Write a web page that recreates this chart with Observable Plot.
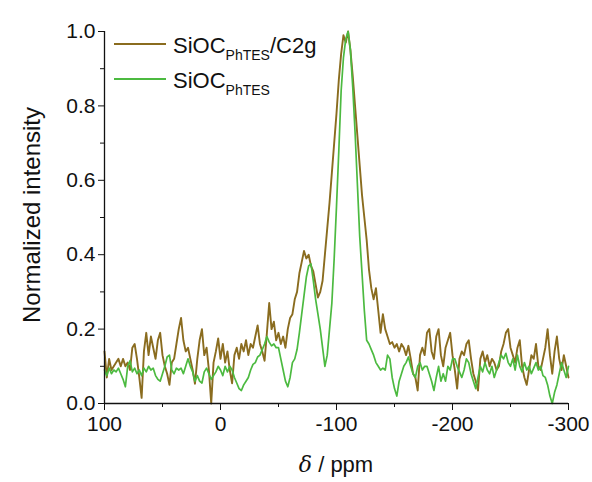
<!DOCTYPE html>
<html>
<head>
<meta charset="utf-8">
<script src="https://cdn.jsdelivr.net/npm/d3@7"></script>
<script src="https://cdn.jsdelivr.net/npm/@observablehq/plot@0.6"></script>
<style>
  html, body { margin: 0; padding: 0; background: #ffffff; }
  #chart { width: 592px; height: 482px; }
  #chart svg { display: block; background: linear-gradient(#ffffff 0, #ffffff 13px, #f9f9f9 13px, #f9f9f9 100%); }
</style>
</head>
<body>
<div id="chart"></div>
<script>
// chemical shift (ppm)
const ppm = [100,98,96,94,92,90,88,86,84,82,80,78,76,74,72,70,68,66,64,62,60,58,56,54,52,50,48,46,44,42,40,38,36,34,32,30,28,26,24,22,20,18,16,14,12,10,8,6,4,2,0,
-2,-4,-6,-8,-10,-12,-14,-16,-18,-20,-22,-24,-26,-28,-30,-32,-34,-36,-38,-40,-42,-44,-46,-48,-50,-52,-54,-56,-58,-60,-62,-64,-66,-68,-70,-72,-74,-76,-78,-80,-82,-84,-86,-88,-90,-92,-94,-96,-98,-100,
-102,-104,-106,-108,-110,-112,-114,-116,-118,-120,-122,-124,-126,-128,-130,-132,-134,-136,-138,-140,-142,-144,-146,-148,-150,-152,-154,-156,-158,-160,-162,-164,-166,-168,-170,-172,-174,-176,-178,-180,-182,-184,-186,-188,-190,-192,-194,-196,-198,-200,
-202,-204,-206,-208,-210,-212,-214,-216,-218,-220,-222,-224,-226,-228,-230,-232,-234,-236,-238,-240,-242,-244,-246,-248,-250,-252,-254,-256,-258,-260,-262,-264,-266,-268,-270,-272,-274,-276,-278,-280,-282,-284,-286,-288,-290,-292,-294,-296,-298,-300];

// SiOC_PhTES/C2g (brown)
const siocC2g = [0.14,0.07,0.12,0.09,0.10,0.11,0.12,0.10,0.12,0.10,0.11,0.09,0.15,0.16,0.12,0.07,0.015,0.14,0.19,0.13,0.18,0.15,0.12,0.17,0.19,0.13,0.10,0.08,0.05,0.11,0.12,0.16,0.20,0.23,0.17,0.14,0.15,0.12,0.09,0.053,0.12,0.17,0.20,0.13,0.15,0.09,0.00,0.11,0.14,0.175,0.12,
0.16,0.11,0.14,0.09,0.054,0.13,0.15,0.12,0.16,0.14,0.17,0.13,0.16,0.15,0.18,0.21,0.16,0.14,0.115,0.19,0.27,0.20,0.22,0.17,0.19,0.16,0.18,0.15,0.20,0.23,0.24,0.28,0.30,0.35,0.38,0.41,0.39,0.40,0.37,0.355,0.32,0.285,0.30,0.33,0.40,0.47,0.54,0.62,0.70,0.78,
0.87,0.94,0.99,0.97,1.0,0.95,0.88,0.80,0.72,0.64,0.56,0.50,0.44,0.36,0.31,0.28,0.31,0.25,0.19,0.24,0.20,0.18,0.16,0.165,0.15,0.16,0.14,0.16,0.15,0.13,0.155,0.12,0.08,0.07,0.035,0.13,0.15,0.13,0.19,0.20,0.14,0.12,0.18,0.20,0.13,0.10,0.15,0.17,0.19,0.13,
0.09,0.04,0.12,0.14,0.13,0.16,0.17,0.12,0.08,0.06,0.035,0.12,0.14,0.11,0.13,0.10,0.12,0.11,0.09,0.10,0.14,0.16,0.19,0.20,0.15,0.13,0.11,0.15,0.17,0.10,0.07,0.05,0.09,0.13,0.12,0.16,0.10,0.09,0.12,0.15,0.20,0.13,0.08,0.14,0.18,0.12,0.09,0.13,0.10,0.07];

// SiOC_PhTES (green)
const sioc = [0.09,0.075,0.095,0.08,0.09,0.085,0.095,0.08,0.065,0.045,0.10,0.115,0.085,0.095,0.08,0.09,0.075,0.095,0.085,0.10,0.09,0.095,0.075,0.065,0.06,0.08,0.10,0.125,0.13,0.09,0.08,0.095,0.09,0.095,0.08,0.10,0.12,0.10,0.085,0.06,0.075,0.06,0.055,0.085,0.095,0.08,0.065,0.075,0.085,0.10,0.09,
0.075,0.10,0.085,0.10,0.09,0.07,0.055,0.04,0.035,0.05,0.06,0.07,0.09,0.105,0.11,0.125,0.13,0.145,0.16,0.18,0.165,0.155,0.16,0.15,0.15,0.12,0.09,0.06,0.045,0.07,0.11,0.12,0.145,0.19,0.24,0.29,0.34,0.37,0.375,0.33,0.28,0.24,0.20,0.15,0.10,0.13,0.20,0.27,0.39,0.53,
0.68,0.84,0.93,0.98,1.0,0.95,0.85,0.73,0.59,0.45,0.35,0.25,0.17,0.16,0.145,0.13,0.11,0.10,0.09,0.095,0.09,0.13,0.12,0.07,0.04,0.02,0.06,0.08,0.10,0.11,0.125,0.10,0.08,0.07,0.10,0.11,0.09,0.10,0.10,0.08,0.06,0.035,0.07,0.10,0.06,0.08,0.06,0.10,0.09,0.12,
0.12,0.10,0.085,0.07,0.09,0.12,0.11,0.08,0.06,0.04,0.07,0.10,0.085,0.11,0.09,0.08,0.10,0.07,0.09,0.11,0.13,0.12,0.135,0.11,0.10,0.12,0.09,0.13,0.10,0.085,0.11,0.09,0.10,0.08,0.095,0.11,0.09,0.10,0.075,0.07,0.05,0.02,0.0,0.03,0.05,0.08,0.11,0.09,0.07,0.10];

const xTicks = [100, 0, -100, -200, -300];
const xMinor = [50, -50, -150, -250];
const yTicks = [0, 0.2, 0.4, 0.6, 0.8, 1.0];
const yMinor = [0.1, 0.3, 0.5, 0.7, 0.9];

const colBrown = "#8a6c1f";
const colGreen = "#4cba40";
const FONT = "'Liberation Sans', Arial, sans-serif";

const brownData = ppm.map((p, i) => ({ppm: p, v: siocC2g[i]}));
const greenData = ppm.map((p, i) => ({ppm: p, v: sioc[i]}));

const svg = Plot.plot({
  width: 592,
  height: 482,
  marginLeft: 104,
  marginRight: 24,
  marginTop: 31,
  marginBottom: 79,
  style: {fontFamily: FONT, fontSize: "21px", color: "#111", background: "transparent", overflow: "visible"},
  x: {domain: [100, -300], label: null},
  y: {domain: [0, 1], label: null},
  marks: [
    Plot.line(brownData, {x: "ppm", y: "v", stroke: colBrown, strokeWidth: 1.9}),
    Plot.line(greenData, {x: "ppm", y: "v", stroke: colGreen, strokeWidth: 1.7}),
    Plot.ruleY([0], {stroke: "#111", strokeWidth: 1.3}),
    Plot.ruleX([100], {stroke: "#111", strokeWidth: 1.3}),
    Plot.axisX({ticks: xTicks, tickSize: 7, tickPadding: 6, tickFormat: d => String(d), fontSize: 21, stroke: "#111", label: null}),
    Plot.axisX({ticks: xMinor, tickSize: 4, text: null, stroke: "#111", label: null}),
    Plot.axisY({ticks: yTicks, tickSize: 6, tickPadding: 3, tickFormat: d3.format(".1f"), fontSize: 21, stroke: "#111", label: null}),
    Plot.axisY({ticks: yMinor, tickSize: 4, text: null, stroke: "#111", label: null})
  ]
});

document.getElementById("chart").appendChild(svg);

const s = d3.select(svg);
// axis titles
s.append("text")
  .attr("transform", "translate(40,215) rotate(-90)")
  .attr("text-anchor", "middle")
  .attr("font-family", FONT).attr("font-size", 24).attr("fill", "#111")
  .text("Normalized intensity");

const xt = s.append("text")
  .attr("x", 336).attr("y", 472)
  .attr("text-anchor", "middle")
  .attr("font-family", FONT).attr("font-size", 22).attr("fill", "#111");
xt.append("tspan").attr("font-style", "italic").attr("font-family", "'DejaVu Serif', serif").text("δ");
xt.append("tspan").text(" / ppm");

// legend
const legend = [
  {label: "SiOC", sub: "PhTES", tail: "/C2g", color: colBrown, y: 44},
  {label: "SiOC", sub: "PhTES", tail: "", color: colGreen, y: 79}
];
legend.forEach(d => {
  s.append("line").attr("x1", 114).attr("x2", 166).attr("y1", d.y).attr("y2", d.y)
    .attr("stroke", d.color).attr("stroke-width", 1.8);
  const t = s.append("text").attr("x", 173).attr("y", d.y + 9)
    .attr("text-anchor", "start")
    .attr("font-family", FONT).attr("font-size", 22).attr("fill", "#111");
  t.append("tspan").text(d.label);
  t.append("tspan").attr("font-size", 14).attr("dy", 7).text(d.sub);
  if (d.tail) t.append("tspan").attr("dy", -7).text(d.tail);
});
</script>
</body>
</html>
